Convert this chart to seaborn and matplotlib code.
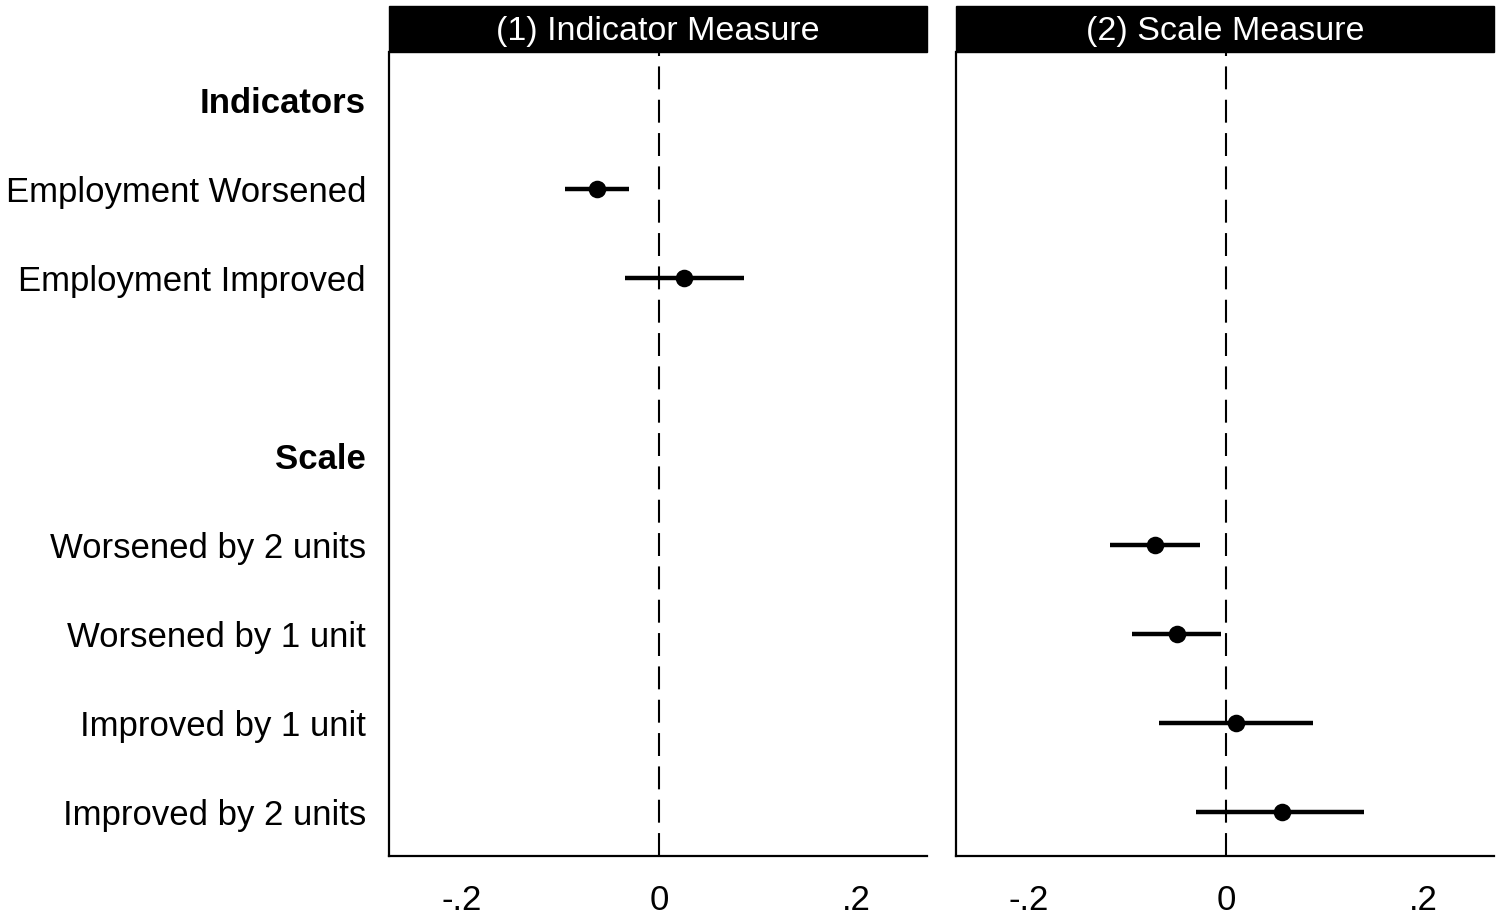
import matplotlib
matplotlib.use("Agg")
import matplotlib.pyplot as plt
from matplotlib.patches import Rectangle
import seaborn as sns
import pandas as pd
import numpy as np

# ---- data ----
row_labels = ["Indicators", "Employment Worsened", "Employment Improved", "",
              "Scale", "Worsened by 2 units", "Worsened by 1 unit",
              "Improved by 1 unit", "Improved by 2 units"]
bold_rows = ["Indicators", "Scale"]

ind_terms = ["Employment Worsened", "Employment Improved"]
ind_est = [-0.063, 0.025]
ind_lo = [-0.095, -0.034]
ind_hi = [-0.030, 0.086]

scale_terms = ["Worsened by 2 units", "Worsened by 1 unit",
               "Improved by 1 unit", "Improved by 2 units"]
scale_est = [-0.072, -0.050, 0.010, 0.057]
scale_lo = [-0.118, -0.095, -0.068, -0.030]
scale_hi = [-0.026, -0.005, 0.088, 0.140]

panel_titles = ["(1) Indicator Measure", "(2) Scale Measure"]
xticks = [-0.2, 0, 0.2]
xticklabels = ["-.2", "0", ".2"]

sns.set_theme(style="white")
plt.rcParams['font.family'] = ['Liberation Sans', 'DejaVu Sans']
plt.rcParams['text.color'] = 'black'
plt.rcParams['xtick.color'] = 'black'
plt.rcParams['ytick.color'] = 'black'

W, H = 1501, 917
fig = plt.figure(figsize=(W / 100, H / 100), dpi=100)

def fx(px):
    return px / W

def fy(py):
    return 1 - py / H

ax_bottom = fy(856)
ax_height = (856 - 52) / H
axes = [fig.add_axes([fx(389), ax_bottom, (927 - 389) / W, ax_height]),
        fig.add_axes([fx(956), ax_bottom, (1494 - 956) / W, ax_height])]

pos = {lab: i for i, lab in enumerate(row_labels)}
dfs = [pd.DataFrame({"term": ind_terms, "est": ind_est, "lo": ind_lo, "hi": ind_hi}),
       pd.DataFrame({"term": scale_terms, "est": scale_est, "lo": scale_lo, "hi": scale_hi})]

for k, (ax, df) in enumerate(zip(axes, dfs)):
    df = df.copy()
    df["y"] = df["term"].map(pos)
    ax.axvline(0, color="black", lw=1.5, dashes=(11, 5), zorder=1)
    ax.hlines(df["y"], df["lo"], df["hi"], color="black", lw=3.2, zorder=2)
    sns.scatterplot(data=df, x="est", y="y", ax=ax, color="black", s=160,
                    edgecolor="black", linewidth=0, zorder=3, legend=False)
    ax.set_xlim(-0.274, 0.272)
    ax.set_ylim(8.49, -0.54)
    ax.set_xticks(xticks)
    ax.set_xticklabels(xticklabels, fontsize=25, color="black")
    ax.tick_params(axis="x", length=0, pad=20)
    ax.set_yticks(range(len(row_labels)))
    if k == 0:
        ax.set_yticklabels(row_labels, fontsize=25, color="black")
        for t in ax.get_yticklabels():
            if t.get_text() in bold_rows:
                t.set_fontweight("bold")
    else:
        ax.set_yticklabels([])
    ax.tick_params(axis="y", length=0, pad=16.5)
    ax.set_xlabel("")
    ax.set_ylabel("")
    for s in ["top", "right"]:
        ax.spines[s].set_visible(False)
    for s in ["left", "bottom"]:
        ax.spines[s].set_color("black")
        ax.spines[s].set_linewidth(1.6)
    hdr_h = 46 / (856 - 52)
    ax.add_patch(Rectangle((0, 1), 1, hdr_h, transform=ax.transAxes,
                           facecolor="black", edgecolor="black", clip_on=False))
    ax.text(0.5, 1 + hdr_h / 2 - 2.5 / 804, panel_titles[k], transform=ax.transAxes,
            ha="center", va="center", color="white", fontsize=24.5)

fig.savefig("out.png", dpi=100, facecolor="white")
